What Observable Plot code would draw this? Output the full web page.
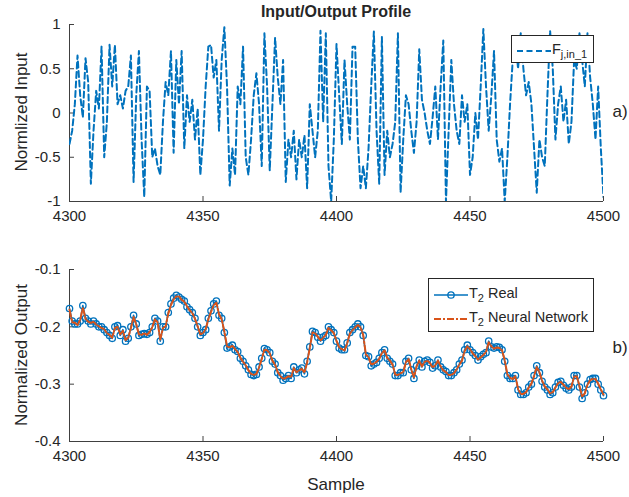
<!DOCTYPE html>
<html><head><meta charset="utf-8">
<script src="https://cdn.jsdelivr.net/npm/d3@7"></script>
<script src="https://cdn.jsdelivr.net/npm/@observablehq/plot@0.6"></script>
<style>
body{margin:0;background:#fff;}
#wrap{position:relative;width:629px;height:497px;font-family:"Liberation Sans",Arial,sans-serif;color:#262626;overflow:hidden;background:#fff}
.abs{position:absolute;white-space:nowrap}
.plot{position:absolute;left:0}
sub{font-size:11px}
</style></head><body><div id="wrap"></div>
<script>
// ---- data ----
const xStart = 4300;
const xTicks = [4300, 4350, 4400, 4450, 4500];
const yTicksTop = [-1, -0.5, 0, 0.5, 1];
const yTicksBottom = [-0.4, -0.3, -0.2, -0.1];

const inputVals = [
 -0.35,-0.2,0.1,0.65,0.2,-0.05,0.62,0.35,-0.8,-0.2,
 0.25,0.05,0.75,-0.5,-0.1,0.77,0.3,0.77,0.1,0.2,
 0.05,0.25,0.3,0.65,-0.78,0.2,0.7,-0.3,-0.95,0.3,
 0.25,-0.5,-0.4,-0.6,-0.7,-0.1,0.35,0.2,0.7,-0.45,
 0.6,0.1,0.7,-0.4,0.2,-0.1,0.15,-0.3,0.05,-0.7,
 -0.3,0.3,0.75,0.77,0.4,0.6,-0.2,0.6,0.97,0.3,
 -0.82,-0.4,-0.7,0.3,0.1,0.75,-0.5,-0.7,-0.3,0.2,
 0.45,0.1,-0.6,0.9,0.3,-0.65,0.1,0.85,0.4,0.1,
 0.6,-0.78,-0.3,-0.5,-0.2,-0.75,-0.3,-0.5,-0.25,-0.85,
 0.1,-0.2,-0.5,-0.2,0.93,-0.1,0.9,-0.6,-1.0,-0.3,
 0.78,0.2,-0.35,0.6,0.1,-0.3,0.75,0.75,-0.3,-0.85,
 -0.6,-0.85,-0.4,0.3,0.92,-0.2,-0.8,0.86,-0.7,-0.2,
 -0.5,-0.35,-0.1,0.9,-0.9,-0.3,0.2,0.1,-0.2,-0.45,
 -0.1,0.72,0.15,0.0,-0.2,-0.35,-0.05,0.3,-0.3,0.3,
 0.82,-1.0,-0.2,0.6,0.1,-0.2,-0.35,0.2,-0.1,0.1,
 -0.7,-0.5,0.0,-0.3,0.3,0.95,0.3,-0.2,0.2,0.7,
 -0.3,-0.55,-0.4,-1.0,-0.5,0.1,0.6,0.85,0.5,0.9,
 0.5,0.2,0.35,0.1,-0.4,-0.9,-0.3,-0.5,-0.6,0.2,
 0.93,0.5,-0.3,0.1,0.3,-0.1,0.15,-0.35,-0.1,0.6,
 0.5,0.9,0.6,0.3,0.9,0.4,0.1,-0.3,0.3,-0.4,
 -0.95];

const realVals = [
 -0.168,-0.19,-0.195,-0.195,-0.19,-0.163,-0.185,-0.19,-0.195,-0.19,
 -0.195,-0.2,-0.2,-0.205,-0.21,-0.215,-0.22,-0.2,-0.198,-0.215,
 -0.205,-0.225,-0.22,-0.2,-0.18,-0.195,-0.215,-0.213,-0.212,-0.213,
 -0.21,-0.2,-0.185,-0.19,-0.225,-0.2,-0.2,-0.175,-0.16,-0.15,
 -0.145,-0.148,-0.152,-0.155,-0.165,-0.17,-0.175,-0.185,-0.2,-0.215,
 -0.21,-0.205,-0.185,-0.172,-0.16,-0.155,-0.18,-0.185,-0.21,-0.237,
 -0.235,-0.232,-0.24,-0.243,-0.255,-0.26,-0.268,-0.275,-0.283,-0.285,
 -0.283,-0.27,-0.255,-0.238,-0.24,-0.245,-0.26,-0.265,-0.28,-0.285,
 -0.293,-0.29,-0.285,-0.29,-0.27,-0.28,-0.275,-0.272,-0.282,-0.26,
 -0.235,-0.208,-0.21,-0.218,-0.225,-0.218,-0.215,-0.2,-0.205,-0.21,
 -0.225,-0.237,-0.24,-0.24,-0.228,-0.21,-0.205,-0.2,-0.195,-0.2,
 -0.215,-0.25,-0.252,-0.268,-0.265,-0.262,-0.255,-0.245,-0.24,-0.255,
 -0.26,-0.265,-0.285,-0.285,-0.28,-0.28,-0.26,-0.255,-0.275,-0.29,
 -0.268,-0.258,-0.27,-0.26,-0.258,-0.262,-0.272,-0.268,-0.258,-0.27,
 -0.275,-0.278,-0.285,-0.285,-0.28,-0.275,-0.265,-0.258,-0.24,-0.232,
 -0.24,-0.245,-0.25,-0.258,-0.252,-0.248,-0.245,-0.225,-0.235,-0.237,
 -0.235,-0.236,-0.24,-0.26,-0.285,-0.29,-0.29,-0.285,-0.31,-0.318,
 -0.318,-0.315,-0.305,-0.3,-0.285,-0.268,-0.28,-0.295,-0.305,-0.31,
 -0.318,-0.315,-0.305,-0.297,-0.295,-0.302,-0.307,-0.31,-0.305,-0.285,
 -0.285,-0.305,-0.325,-0.315,-0.3,-0.292,-0.29,-0.29,-0.3,-0.31,
 -0.32];

const nnVals = [
 -0.17,-0.192,-0.193,-0.197,-0.188,-0.166,-0.186,-0.191,-0.193,-0.191,
 -0.196,-0.199,-0.202,-0.204,-0.211,-0.214,-0.219,-0.202,-0.2,-0.213,
 -0.207,-0.223,-0.219,-0.202,-0.183,-0.196,-0.213,-0.214,-0.211,-0.214,
 -0.209,-0.201,-0.187,-0.192,-0.222,-0.202,-0.199,-0.177,-0.162,-0.152,
 -0.147,-0.147,-0.153,-0.156,-0.164,-0.171,-0.176,-0.186,-0.199,-0.213,
 -0.211,-0.204,-0.187,-0.174,-0.162,-0.158,-0.178,-0.187,-0.208,-0.234,
 -0.236,-0.233,-0.239,-0.244,-0.254,-0.261,-0.267,-0.276,-0.282,-0.284,
 -0.282,-0.271,-0.256,-0.24,-0.241,-0.246,-0.259,-0.266,-0.279,-0.286,
 -0.291,-0.289,-0.286,-0.288,-0.272,-0.279,-0.276,-0.273,-0.28,-0.262,
 -0.237,-0.21,-0.211,-0.217,-0.224,-0.219,-0.214,-0.202,-0.206,-0.211,
 -0.224,-0.236,-0.239,-0.241,-0.229,-0.212,-0.206,-0.201,-0.197,-0.201,
 -0.214,-0.248,-0.253,-0.266,-0.264,-0.261,-0.256,-0.246,-0.241,-0.254,
 -0.259,-0.266,-0.283,-0.284,-0.281,-0.279,-0.262,-0.256,-0.274,-0.288,
 -0.269,-0.259,-0.269,-0.261,-0.259,-0.263,-0.271,-0.267,-0.259,-0.269,
 -0.276,-0.279,-0.284,-0.284,-0.281,-0.274,-0.266,-0.259,-0.242,-0.234,
 -0.239,-0.246,-0.251,-0.257,-0.253,-0.249,-0.244,-0.227,-0.234,-0.238,
 -0.236,-0.237,-0.241,-0.258,-0.283,-0.289,-0.291,-0.286,-0.308,-0.317,
 -0.317,-0.314,-0.306,-0.299,-0.286,-0.27,-0.279,-0.294,-0.304,-0.309,
 -0.316,-0.314,-0.306,-0.298,-0.296,-0.301,-0.306,-0.309,-0.304,-0.287,
 -0.286,-0.303,-0.322,-0.316,-0.301,-0.293,-0.291,-0.291,-0.299,-0.309,
 -0.318];

// ---- build ----
const topData = inputVals.map((v, i) => ({x: xStart + i, y: v}));
const realData = realVals.map((v, i) => ({x: xStart + i, y: v}));
const nnData = nnVals.map((v, i) => ({x: xStart + i, y: v}));

const BLUE = "#0072BD", ORANGE = "#D95319", AX = "#404040";
const W = 629, ML = 69, MR = 26;
const fmt = d => String(d);
const plotStyle = {fontFamily: '"Liberation Sans", Arial, sans-serif', fontSize: "15px", color: "#262626", background: "transparent", overflow: "visible"};

function axesMarks(innerH, innerW, yTicks, yMin) {
  return [
    Plot.tickX(xTicks, {x: d => d, stroke: AX, insetTop: innerH - 5, strokeWidth: 1}),
    Plot.tickY(yTicks, {y: d => d, stroke: AX, insetRight: innerW - 5, strokeWidth: 1}),
    Plot.ruleX([xStart], {stroke: AX, strokeWidth: 1}),
    Plot.ruleY([yMin], {stroke: AX, strokeWidth: 1}),
    Plot.axisX({ticks: xTicks, tickSize: 0, tickPadding: 9, tickFormat: fmt, label: null, fontSize: 15}),
    Plot.axisY({ticks: yTicks, tickSize: 0, tickPadding: 9, tickFormat: fmt, label: null, fontSize: 15})
  ];
}

const H1 = 230, MT1 = 24, MB1 = 29;
const topPlot = Plot.plot({
  width: W, height: H1, marginLeft: ML, marginRight: MR, marginTop: MT1, marginBottom: MB1,
  style: plotStyle,
  x: {domain: [4300, 4500]},
  y: {domain: [-1, 1]},
  marks: [
    ...axesMarks(H1 - MT1 - MB1, W - ML - MR, yTicksTop, -1),
    Plot.line(topData, {x: "x", y: "y", stroke: BLUE, strokeWidth: 2, strokeDasharray: "6,3.5", clip: true})
  ]
});

const H2 = 257, MT2 = 29, MB2 = 56, T2 = 240;
const bottomPlot = Plot.plot({
  width: W, height: H2, marginLeft: ML, marginRight: MR, marginTop: MT2, marginBottom: MB2,
  style: plotStyle,
  x: {domain: [4300, 4500]},
  y: {domain: [-0.4, -0.1]},
  marks: [
    ...axesMarks(H2 - MT2 - MB2, W - ML - MR, yTicksBottom, -0.4),
    Plot.line(realData, {x: "x", y: "y", stroke: BLUE, strokeWidth: 1.6}),
    Plot.dot(realData, {x: "x", y: "y", r: 3.2, stroke: BLUE, strokeWidth: 1.3, fill: "none"}),
    Plot.line(nnData, {x: "x", y: "y", stroke: ORANGE, strokeWidth: 2, strokeDasharray: "7,2,2,2"})
  ]
});

const wrap = document.getElementById("wrap");
topPlot.classList.add("plot"); topPlot.style.top = "0px";
bottomPlot.classList.add("plot"); bottomPlot.style.top = T2 + "px";
wrap.appendChild(topPlot); wrap.appendChild(bottomPlot);

function addText(html, cx, cy, opts = {}) {
  const d = document.createElement("div");
  d.className = "abs";
  d.innerHTML = html;
  d.style.fontSize = (opts.size || 17) + "px";
  if (opts.bold) d.style.fontWeight = "bold";
  d.style.lineHeight = "20px";
  d.style.width = "300px";
  d.style.textAlign = "center";
  d.style.left = (cx - 150) + "px";
  d.style.top = (cy - 10) + "px";
  if (opts.rotate) d.style.transform = "rotate(-90deg)";
  wrap.appendChild(d);
}
addText("Input/Output Profile", 336, 12, {size: 16, bold: true});
addText("Normlized Input", 22, 112, {rotate: true});
addText("Normalized Output", 22, 355, {rotate: true});
addText("Sample", 336, 485);
addText("a)", 620, 112, {size: 17});
addText("b)", 620, 348, {size: 17});

// legends
function legendBox(left, topY, w, h, rows) {
  const box = document.createElement("div");
  box.className = "abs";
  Object.assign(box.style, {left: left + "px", top: topY + "px", width: w + "px", height: h + "px",
    border: "1px solid #262626", background: "#fff", boxSizing: "border-box", fontSize: "14.5px"});
  rows.forEach(r => {
    const row = document.createElement("div");
    row.className = "abs";
    Object.assign(row.style, {left: "4px", top: (r.cy - topY - 11) + "px", height: "22px", lineHeight: "22px"});
    row.innerHTML = `<svg width="36" height="22" style="vertical-align:middle;overflow:visible">${r.swatch}</svg><span style="vertical-align:middle">${r.label}</span>`;
    box.appendChild(row);
  });
  wrap.appendChild(box);
}
legendBox(511, 35, 83, 28, [
  {cy: 48, swatch: `<line x1="1" y1="11" x2="35" y2="11" stroke="${BLUE}" stroke-width="2" stroke-dasharray="6,3.5"/>`, label: 'F<sub>j,in_1</sub>'}
]);
legendBox(428, 278, 166, 54, [
  {cy: 292, swatch: `<line x1="1" y1="11" x2="35" y2="11" stroke="${BLUE}" stroke-width="1.6"/><circle cx="18" cy="11" r="3.2" fill="none" stroke="${BLUE}" stroke-width="1.3"/>`, label: 'T<sub>2</sub> Real'},
  {cy: 316, swatch: `<line x1="1" y1="11" x2="35" y2="11" stroke="${ORANGE}" stroke-width="2" stroke-dasharray="7,2,2,2"/>`, label: 'T<sub>2</sub> Neural Network'}
]);
</script></body></html>
